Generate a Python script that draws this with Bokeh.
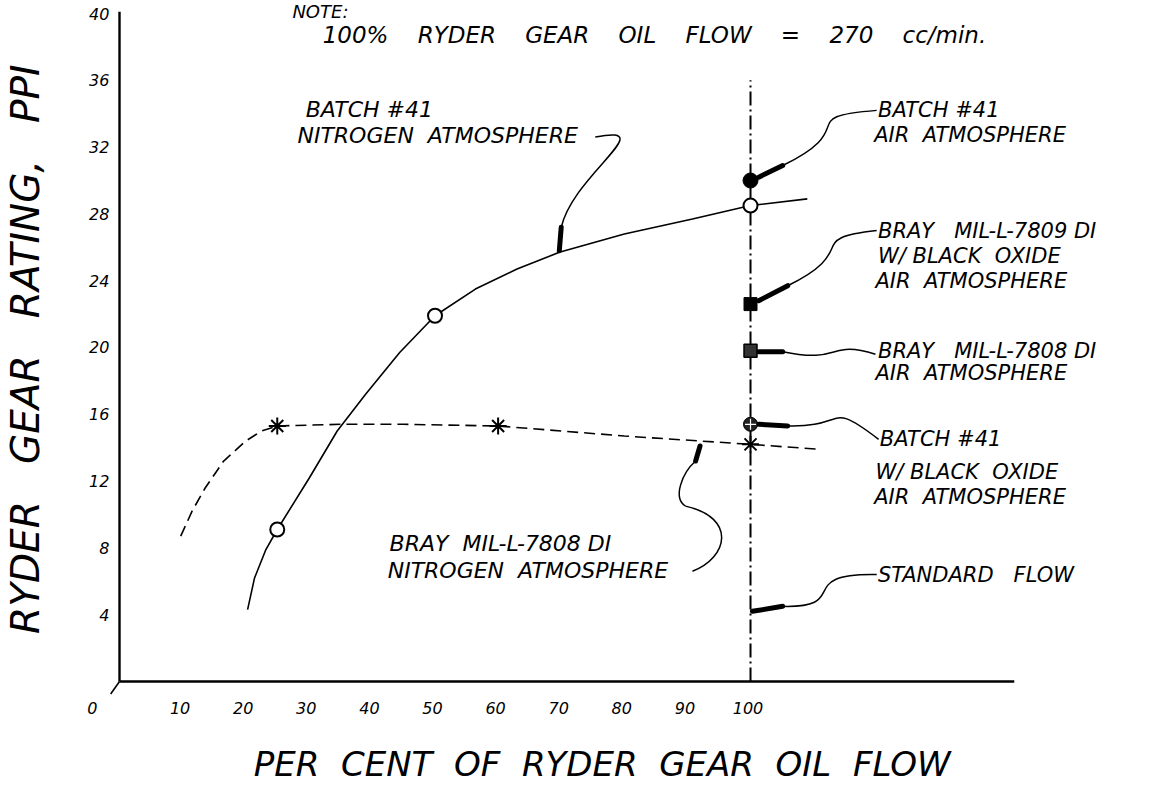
from bokeh.plotting import figure
from bokeh.models import Range1d
from bokeh.core.properties import value
from bokeh.embed import file_html
from bokeh.resources import INLINE
from math import pi

FONT = "DejaVu Sans"
NB = "\u00a0"

# ---------------- data ----------------
# Batch #41, nitrogen atmosphere (open circles) and its faired curve
n2_batch_flow = [25, 50, 100]
n2_batch_rating = [9.1, 21.9, 28.5]
n2_batch_curve_x = [20.3, 21.4, 23.2, 25, 30.1, 34.5, 39, 44.4, 50, 56.4, 63, 69.7, 80, 90.8, 100, 109]
n2_batch_curve_y = [4.3, 6.2, 7.9, 9.1, 12.2, 15.0, 17.2, 19.7, 21.9, 23.5, 24.7, 25.7, 26.8, 27.7, 28.5, 28.9]

# Bray MIL-L-7808 DI, nitrogen atmosphere (stars) and its dashed curve
n2_bray_flow = [25, 60, 100]
n2_bray_rating = [15.3, 15.3, 14.2]
n2_bray_curve_x = [9.7, 11.5, 13.6, 16.5, 20, 22.5, 25, 35, 45, 60, 80, 100, 111]
n2_bray_curve_y = [8.7, 10.2, 11.6, 13.2, 14.4, 15.0, 15.3, 15.4, 15.4, 15.3, 14.7, 14.2, 13.9]

# Air-atmosphere points at standard flow (100 %)
std_flow = 100
air_batch41 = 30.0
air_bray_oxide = 22.6
air_bray = 19.8
air_batch41_oxide = 15.4
std_line_top = 36.0

x_ticks = [10, 20, 30, 40, 50, 60, 70, 80, 90, 100]
y_ticks = [4, 8, 12, 16, 20, 24, 28, 32, 36, 40]
x_axis_end = 141.8
y_axis_end = 40.1

G2 = NB * 2
G3 = NB * 3
G4 = NB * 4
x_title = "PER" + G2 + "CENT" + G2 + "OF" + G2 + "RYDER" + G2 + "GEAR" + G2 + "OIL" + G2 + "FLOW"
y_title = "RYDER" + G3 + "GEAR" + G3 + "RATING," + G3 + "PPI"
note_title = "NOTE:"
note_text = "100%" + G4 + "RYDER" + G4 + "GEAR" + G4 + "OIL" + G4 + "FLOW" + G4 + "=" + G4 + "270" + G4 + "cc/min."

# left-side annotation texts (x, y in data units)
left_texts = ["BATCH #41", "NITROGEN" + G2 + "ATMOSPHERE",
              "BRAY" + G2 + "MIL-L-7808 DI", "NITROGEN" + G2 + "ATMOSPHERE"]
left_x = [29.5, 28.2, 42.8, 42.5]
left_y = [34.25, 32.7, 8.25, 6.65]
# right-side annotation texts
right_texts = ["BATCH #41", "AIR" + G2 + "ATMOSPHERE",
               "BRAY" + G3 + "MIL-L-7809" + NB + "DI", "W/" + NB + "BLACK" + G2 + "OXIDE", "AIR" + G2 + "ATMOSPHERE",
               "BRAY" + G3 + "MIL-L-7808" + NB + "DI", "AIR" + G2 + "ATMOSPHERE",
               "BATCH #41", "W/" + NB + "BLACK" + G2 + "OXIDE", "AIR" + G2 + "ATMOSPHERE",
               "STANDARD" + G3 + "FLOW"]
right_x = [120.2, 119.6, 120.2, 120.2, 119.8, 120.2, 119.8, 120.5, 119.8, 119.6, 120.2]
right_y = [34.2, 32.7, 27.0, 25.5, 24.0, 19.8, 18.45, 14.5, 12.55, 11.05, 6.4]

# leader curves (cubic bezier): start, end, two control points
leader_x0 = [75.4, 105.1, 105.9, 105.1, 105.9, 105.1, 90.8, 89.7]
leader_y0 = [32.6, 30.9, 23.7, 19.75, 15.3, 4.5, 6.6, 10.5]
leader_x1 = [70.0, 120.0, 120.0, 119.8, 120.3, 120.0, 89.7, 91.3]
leader_y1 = [27.2, 34.2, 27.0, 19.6, 14.5, 6.4, 10.5, 13.2]
leader_cx0 = [86.0, 117.7, 117.7, 114.6, 115.5, 116.2, 96.4, 87.6]
leader_cy0 = [33.4, 33.2, 25.9, 19.0, 15.2, 4.4, 7.4, 11.0]
leader_cx1 = [72.0, 106.7, 108.2, 112.2, 112.0, 106.7, 97.9, 89.2]
leader_cy1 = [30.4, 33.8, 26.5, 20.5, 16.9, 6.5, 9.8, 12.5]
# thick arrow strokes at the pointed ends of the leaders
arrow_x0 = [70.0, 101.3, 101.3, 101.3, 101.3, 100.3, 91.3]
arrow_y0 = [27.2, 30.2, 22.8, 19.75, 15.4, 4.2, 13.2]
arrow_x1 = [69.7, 105.1, 105.9, 105.1, 105.9, 105.1, 92.0]
arrow_y1 = [25.8, 30.9, 23.7, 19.75, 15.3, 4.5, 14.1]

# ---------------- figure ----------------
p = figure(width=1149, height=784, x_range=Range1d(-18.86, 163.23), y_range=Range1d(-6.17, 40.78),
           output_backend="svg", toolbar_location=None,
           x_axis_location=None, y_axis_location=None,
           min_border_left=0, min_border_right=0, min_border_top=0, min_border_bottom=0)
p.outline_line_color = None
p.grid.visible = False
p.background_fill_color = "white"
p.border_fill_color = "white"


def txt(xs, ys, texts, size, align="left", baseline="middle", angle=0.0):
    p.text(x=xs, y=ys, text=texts, angle=angle,
           text_font=value(FONT), text_font_style="italic", text_font_size=size,
           text_align=align, text_baseline=baseline, text_color="black")


# axes (hand-drawn style): lines and tick labels placed through the data scales
p.line([0, x_axis_end], [0, 0], line_color="black", line_width=2.4)
p.line([0, 0], [0, y_axis_end], line_color="black", line_width=2.4)
p.line([0, -1.4], [0, -0.75], line_color="black", line_width=1.6)
txt([t - 0.4 for t in x_ticks], [-1.6] * len(x_ticks), [str(t) for t in x_ticks], "16px", align="center")
txt([-4.3], [-1.6], ["0"], "16px", align="center")
txt([-1.6] * len(y_ticks), y_ticks, [str(t) for t in y_ticks], "16px", align="right")
txt([76.5], [-4.95], [x_title], "34px", align="center", baseline="alphabetic")
txt([-14.9], [19.9], [y_title], "39px", align="center", angle=pi / 2)

# standard-flow line
p.line([std_flow, std_flow], [0, std_line_top], line_color="black", line_width=2, line_dash="14 4 2 4")

# curves
p.line(n2_batch_curve_x, n2_batch_curve_y, line_color="black", line_width=1.6)
p.line(n2_bray_curve_x, n2_bray_curve_y, line_color="black", line_width=1.6, line_dash="11 6")

# leaders
p.bezier(x0=leader_x0, y0=leader_y0, x1=leader_x1, y1=leader_y1,
         cx0=leader_cx0, cy0=leader_cy0, cx1=leader_cx1, cy1=leader_cy1,
         line_color="black", line_width=1.5)
p.segment(x0=arrow_x0, y0=arrow_y0, x1=arrow_x1, y1=arrow_y1,
          line_color="black", line_width=5, line_cap="round")

# markers
p.scatter(n2_batch_flow, n2_batch_rating, marker="circle", size=14,
          fill_color="white", line_color="black", line_width=2)
p.scatter(n2_bray_flow, n2_bray_rating, marker="asterisk", size=17,
          line_color="black", line_width=2)
p.scatter([std_flow], [air_batch41], marker="circle", size=15, fill_color="black", line_color="black")
p.scatter([std_flow], [air_bray_oxide], marker="square", size=13, fill_color="black", line_color="black")
p.scatter([std_flow], [air_bray], marker="square", size=13, fill_color="#333333", line_color="black", line_width=1.5)
p.scatter([std_flow], [air_batch41_oxide], marker="circle", size=14, fill_color="#222222", line_color="black")
p.scatter([std_flow], [air_batch41_oxide], marker="cross", size=11, line_color="white", line_width=1.2)

# note and annotation texts
txt([27.4], [40.12], [note_title], "18px")
txt([32.2], [38.7], [note_text], "23px")
txt(left_x, left_y, left_texts, "22px")
txt(right_x, right_y, right_texts, "21px")

open("out.html", "w").write(file_html(p, INLINE))
